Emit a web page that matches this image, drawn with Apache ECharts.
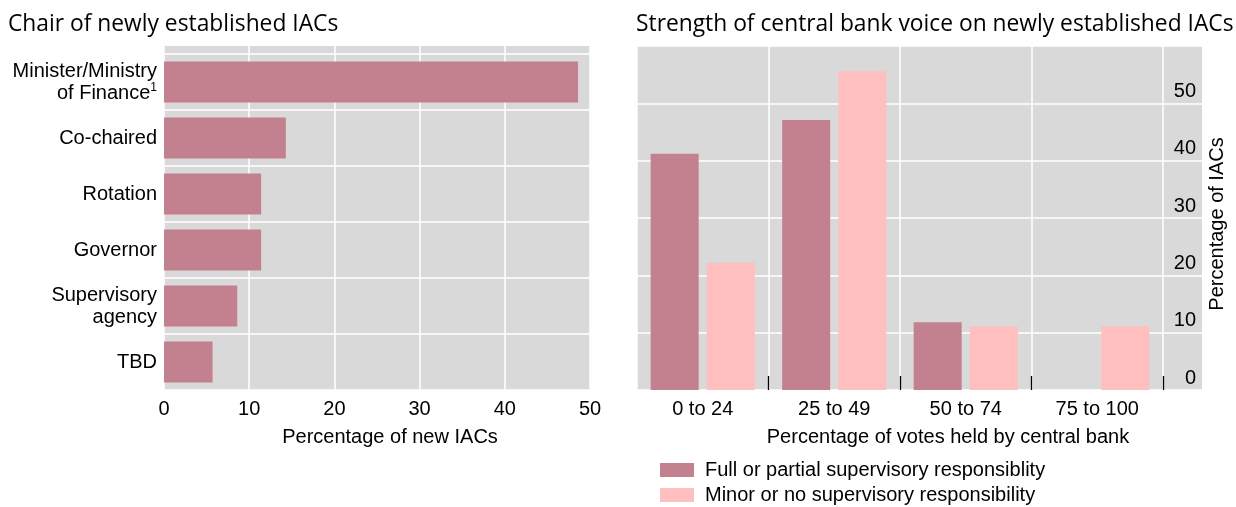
<!DOCTYPE html>
<html>
<head>
<meta charset="utf-8">
<script src="https://cdn.jsdelivr.net/npm/echarts@6/dist/echarts.min.js"></script>
<style>
html,body{margin:0;padding:0;background:#fff;}
#chart{width:1236px;height:507px;}
</style>
</head>
<body>
<div id="chart"></div>
<script>
// ---- Data ----
const chairCategories = ['Minister/Ministry\nof Finance', 'Co-chaired', 'Rotation', 'Governor', 'Supervisory\nagency', 'TBD'];
const chairFootnotes = ['1', '', '', '', '', ''];
const chairValues = [48.6, 14.3, 11.4, 11.4, 8.6, 5.7];
const chairTicks = [0, 10, 20, 30, 40, 50];

const voteCategories = ['0 to 24', '25 to 49', '50 to 74', '75 to 100'];
const fullSupervision = [41.2, 47.1, 11.8, 0];
const minorSupervision = [22.2, 55.6, 11.1, 11.1];
const voteTicks = [0, 10, 20, 30, 40, 50];

const seriesNames = ['Full or partial supervisory responsiblity', 'Minor or no supervisory responsibility'];
const titles = ['Chair of newly established IACs', 'Strength of central bank voice on newly established IACs'];
const axisNames = ['Percentage of new IACs', 'Percentage of votes held by central bank', 'Percentage of IACs'];

// ---- Style ----
const DARK = '#c3808f';
const LIGHT = '#ffbfbf';
const GREY = '#d9d9d9';
const LABEL_FONT = '"Liberation Sans", Arial, sans-serif';
const TITLE_FONT = '"Open Sans", "Noto Sans", sans-serif';
const FS = 20;

const chart = echarts.init(document.getElementById('chart'));

const option = {
  animation: false,
  textStyle: { fontFamily: LABEL_FONT, color: '#000' },
  title: [
    { text: titles[0], left: 8, top: 13, padding: 0, textStyle: { fontFamily: TITLE_FONT, fontSize: 22.8, fontWeight: 'normal', color: '#000' } },
    { text: titles[1], left: 636, top: 13, padding: 0, textStyle: { fontFamily: TITLE_FONT, fontSize: 22.8, fontWeight: 'normal', color: '#000' } }
  ],
  grid: [
    { left: 164, right: 646, top: 46, bottom: 117, show: true, backgroundColor: GREY, borderWidth: 0 },
    { left: 164, right: 646, top: 54, bottom: 117 },
    { left: 637, right: 34, top: 46, bottom: 117, show: true, backgroundColor: GREY, borderWidth: 0 },
    { left: 637, right: 73, top: 46, bottom: 117 }
  ],
  xAxis: [
    { gridIndex: 0, type: 'value', min: chairTicks[0], max: chairTicks[chairTicks.length - 1], interval: chairTicks[1] - chairTicks[0],
      axisLine: { show: false }, axisTick: { show: false },
      axisLabel: { fontSize: FS, color: '#000', margin: 9, fontFamily: LABEL_FONT },
      splitLine: { show: true, lineStyle: { color: '#fff', width: 1.5 } } },
    { gridIndex: 1, type: 'value', min: chairTicks[0], max: chairTicks[chairTicks.length - 1], show: false },
    { gridIndex: 2, type: 'value', min: 0, max: 1, show: false },
    { gridIndex: 3, type: 'category', data: voteCategories,
      axisLine: { show: false },
      axisTick: { show: true, inside: true, length: 14, interval: function (i) { return i !== 0; }, lineStyle: { color: '#000', width: 1.3 } },
      axisLabel: { fontSize: FS, color: '#000', margin: 9, fontFamily: LABEL_FONT },
      splitLine: { show: true, interval: 0, lineStyle: { color: '#fff', width: 1.5 } } }
  ],
  yAxis: [
    { gridIndex: 0, type: 'value', min: 0, max: 1, show: false },
    { gridIndex: 1, type: 'category', inverse: true, data: chairCategories,
      axisLine: { show: false }, axisTick: { show: false },
      axisLabel: {
        margin: 7, fontSize: FS, color: '#000', lineHeight: 22, align: 'right', fontFamily: LABEL_FONT,
        formatter: function (v, i) { return chairFootnotes[i] ? v + '{sup|' + chairFootnotes[i] + '}' : v; },
        rich: { sup: { fontSize: 12, verticalAlign: 'top', padding: [0, 0, 12, 0], fontFamily: LABEL_FONT, color: '#000' } }
      },
      splitLine: { show: true, interval: 0, lineStyle: { color: '#fff', width: 1.5 } } },
    { gridIndex: 2, type: 'value', position: 'right', min: 0, max: 60, interval: 10,
      axisLine: { show: false }, axisTick: { show: false },
      axisLabel: { inside: true, margin: 6, fontSize: FS, color: '#000', verticalAlign: 'bottom', padding: [0, 0, 2, 0], fontFamily: LABEL_FONT,
        formatter: function (v) { return voteTicks.indexOf(v) >= 0 ? String(v) : ''; } },
      splitLine: { show: true, lineStyle: { color: '#fff', width: 1.5 } } },
    { gridIndex: 3, type: 'value', min: 0, max: 60, show: false }
  ],
  legend: {
    orient: 'vertical', left: 660, top: 460, height: 47, padding: 0, itemWidth: 34, itemHeight: 14, itemGap: 5, icon: 'rect',
    selectedMode: false,
    textStyle: { fontSize: FS, color: '#000', fontFamily: LABEL_FONT, padding: [0, 0, 0, 6] },
    data: seriesNames
  },
  series: [
    { type: 'bar', xAxisIndex: 1, yAxisIndex: 1, data: chairValues, barWidth: 41,
      itemStyle: { color: DARK }, silent: true },
    { name: seriesNames[0], type: 'bar', xAxisIndex: 3, yAxisIndex: 3, data: fullSupervision, barWidth: 48, barGap: '17%',
      itemStyle: { color: DARK }, silent: true },
    { name: seriesNames[1], type: 'bar', xAxisIndex: 3, yAxisIndex: 3, data: minorSupervision, barWidth: 48, barGap: '17%',
      itemStyle: { color: LIGHT }, silent: true }
  ],
  graphic: [
    { type: 'text', x: 390, y: 437, style: { text: axisNames[0], font: FS + 'px ' + LABEL_FONT, fill: '#000', align: 'center', verticalAlign: 'middle' } },
    { type: 'text', x: 948, y: 437, style: { text: axisNames[1], font: FS + 'px ' + LABEL_FONT, fill: '#000', align: 'center', verticalAlign: 'middle' } },
    { type: 'text', x: 1217, y: 224, rotation: Math.PI / 2, style: { text: axisNames[2], font: FS + 'px ' + LABEL_FONT, fill: '#000', align: 'center', verticalAlign: 'middle' } }
  ]
};

chart.setOption(option);
</script>
</body>
</html>
